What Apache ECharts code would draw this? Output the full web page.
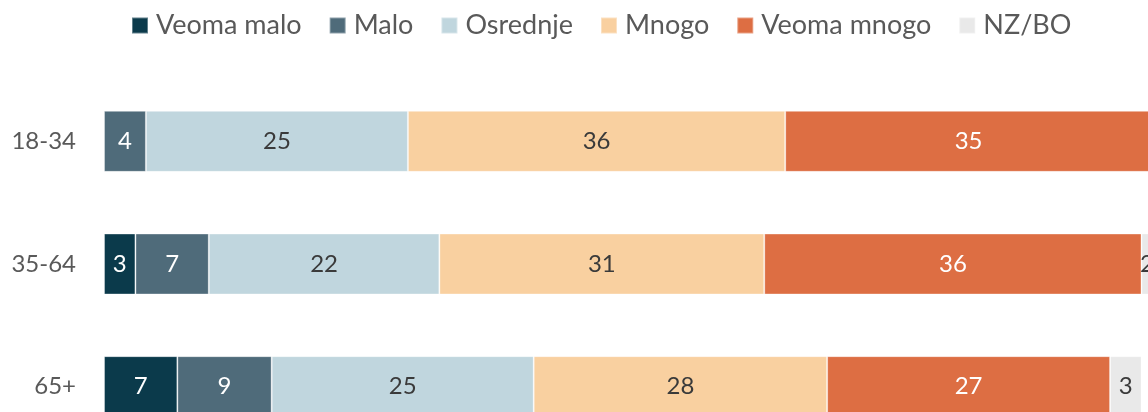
<!DOCTYPE html>
<html>
<head>
<meta charset="utf-8">
<script src="https://cdn.jsdelivr.net/npm/echarts@6/dist/echarts.min.js"></script>
<style>
  html, body { margin: 0; padding: 0; background: #ffffff; }
  #chart { width: 1148px; height: 412px; }
</style>
</head>
<body>
<div id="chart"></div>
<script>
// Age groups (top to bottom)
const categories = ['18-34', '35-64', '65+'];

// Answer shares per age group, in percent
const seriesNames = ['Veoma malo', 'Malo', 'Osrednje', 'Mnogo', 'Veoma mnogo', 'NZ/BO'];
const veomaMalo  = [0, 3, 7];
const malo       = [4, 7, 9];
const osrednje   = [25, 22, 25];
const mnogo      = [36, 31, 28];
const veomaMnogo = [35, 36, 27];
const nzBo       = [0, 2, 3];

const seriesData = [veomaMalo, malo, osrednje, mnogo, veomaMnogo, nzBo];
const colors = ['#0b3a4b', '#4f6b7a', '#c0d6de', '#f9d0a0', '#dd6e43', '#e9e9e9'];
const labelColors = ['#ffffff', '#ffffff', '#3a3a3a', '#3a3a3a', '#ffffff', '#3a3a3a'];

const FONT = 'Lato';

const chart = echarts.init(document.getElementById('chart'), null, { renderer: 'canvas' });

chart.setOption({
  animation: false,
  color: colors,
  textStyle: { fontFamily: FONT },
  legend: {
    left: 126,
    top: 7,
    itemWidth: 16,
    itemHeight: 16,
    itemGap: 27,
    icon: 'rect',
    textStyle: { fontFamily: FONT, fontSize: 27, color: '#595959', padding: [0, 0, 0, 3] },
    data: seriesNames
  },
  // the plot runs slightly past the right and bottom edges of the canvas
  grid: { left: 104, top: 80, width: 1048, height: 368, outerBoundsMode: 'none' },
  xAxis: {
    type: 'value',
    min: 0,
    max: 100,
    show: false
  },
  yAxis: {
    type: 'category',
    data: categories,
    inverse: true,
    axisLine: { show: false },
    axisTick: { show: false },
    splitLine: { show: false },
    axisLabel: { fontFamily: FONT, fontSize: 24, color: '#595959', margin: 28 }
  },
  series: seriesNames.map((name, i) => ({
    name: name,
    type: 'bar',
    stack: 'total',
    barWidth: 61,
    data: seriesData[i],
    itemStyle: { color: colors[i], borderColor: 'rgba(255,255,255,0.35)', borderWidth: 1 },
    label: {
      show: true,
      position: 'inside',
      fontFamily: FONT,
      fontSize: 24,
      color: labelColors[i],
      formatter: p => (p.value ? String(p.value) : '')
    }
  }))
});
</script>
</body>
</html>
